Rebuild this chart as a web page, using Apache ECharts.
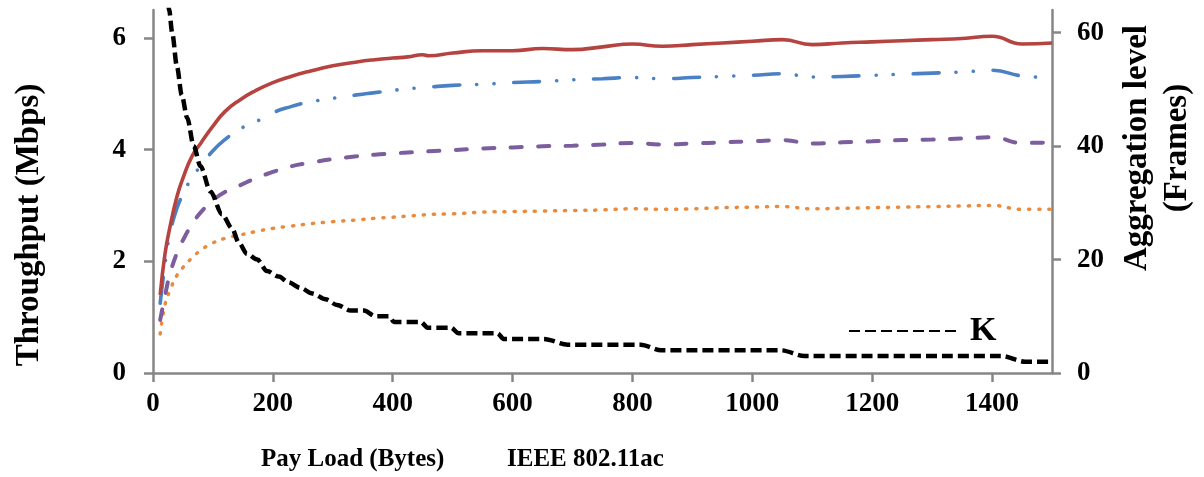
<!DOCTYPE html>
<html>
<head>
<meta charset="utf-8">
<title>Throughput vs Pay Load</title>
<script src="https://cdn.jsdelivr.net/npm/echarts@6/dist/echarts.min.js"></script>
<style>
    html, body { margin: 0; padding: 0; background: #fff; }
    #main { width: 1204px; height: 477px; }
</style>
</head>
<body>
<div id="main"></div>
<script>
// 数据部分 (从图上读出来的估计值)
var payload = [12, 20, 28, 40, 50, 65, 80, 100, 120, 145, 170, 200, 230, 260, 300, 340, 370, 400, 425, 450, 460, 500,
    550, 600, 650, 700, 750, 800, 850, 900, 950, 1000, 1050, 1100, 1150, 1200, 1250, 1300, 1350, 1400, 1450, 1500];

var redVals = [1.40, 2.13, 2.60, 3.16, 3.49, 3.88, 4.12, 4.42, 4.68, 4.89, 5.05, 5.20, 5.31, 5.40, 5.50, 5.57, 5.61, 5.64, 5.66, 5.70, 5.68, 5.73,
    5.77, 5.77, 5.81, 5.79, 5.84, 5.89, 5.85, 5.88, 5.91, 5.94, 5.97, 5.88, 5.91, 5.93, 5.95, 5.97, 5.99, 6.03, 5.89, 5.91];
var blueVals = [1.25, 1.95, 2.48, 2.95, 3.20, 3.50, 3.71, 3.98, 4.18, 4.37, 4.49, 4.66, 4.77, 4.85, 4.92, 4.98, 5.02, 5.06, 5.09, 5.11, 5.12, 5.15,
    5.17, 5.20, 5.22, 5.25, 5.27, 5.29, 5.27, 5.29, 5.31, 5.33, 5.36, 5.30, 5.31, 5.33, 5.35, 5.37, 5.39, 5.42, 5.32, 5.29];
var purpleVals = [0.95, 1.38, 1.76, 2.15, 2.38, 2.66, 2.88, 3.09, 3.24, 3.36, 3.48, 3.60, 3.70, 3.76, 3.83, 3.88, 3.91, 3.93, 3.95, 3.96, 3.97, 3.99,
    4.02, 4.04, 4.06, 4.07, 4.09, 4.12, 4.09, 4.11, 4.13, 4.15, 4.17, 4.11, 4.13, 4.15, 4.17, 4.18, 4.20, 4.22, 4.12, 4.13];
var orangeVals = [0.70, 1.22, 1.47, 1.75, 1.89, 2.06, 2.20, 2.33, 2.41, 2.47, 2.53, 2.59, 2.63, 2.67, 2.71, 2.74, 2.77, 2.79, 2.81, 2.83, 2.84, 2.85,
    2.88, 2.89, 2.90, 2.91, 2.92, 2.94, 2.93, 2.94, 2.96, 2.97, 2.98, 2.94, 2.95, 2.96, 2.97, 2.98, 2.99, 3.00, 2.93, 2.93];

// K (聚合帧数) 单独的 x 值
var kPayload = [12, 20, 27, 32, 40, 48, 57, 68, 79, 96, 115, 132, 143, 157, 174, 190, 210, 226, 246, 266, 288, 307, 330, 352,
    371, 394, 402, 447, 458, 497, 510, 575, 585, 652, 692, 814, 848, 1048, 1087, 1416, 1455, 1500];
var kVals = [110, 80, 64, 60, 54, 49, 45, 40, 36.5, 32, 28, 25.5, 23, 21, 20, 18, 17, 16, 15, 14, 13, 12, 11, 11,
    10, 10, 9, 9, 8, 8, 7, 7, 6, 6, 5, 5, 4, 4, 3, 3, 2, 2];

var xTicks = [0, 200, 400, 600, 800, 1000, 1200, 1400];
var leftTicks = [0, 2, 4, 6];
var rightTicks = [0, 20, 40, 60];

function pairs(xs, ys) {
    return xs.map(function (x, i) { return [x, ys[i]]; });
}

var serif = "'Liberation Serif', 'Times New Roman', serif";
var axisGray = '#868686';
var plainNum = function (v) { return String(v); };

var myChart = echarts.init(document.getElementById('main'));

var option = {
    animation: false,
    grid: { left: 153, right: 152, top: 10, bottom: 104, containLabel: false, outerBoundsMode: 'none' },
    legend: {
        data: ['K'],
        left: 843,
        top: 309,
        itemWidth: 108,
        itemHeight: 14,
        itemStyle: { opacity: 0 },
        textStyle: { fontFamily: serif, fontWeight: 'bold', fontSize: 34, color: '#000', padding: [0, 0, 0, 8] }
    },
    xAxis: {
        type: 'value',
        min: 0,
        max: 1500,
        axisLine: { show: true, onZero: false, lineStyle: { color: axisGray, width: 2.5 } },
        axisTick: { show: true, length: 9, customValues: xTicks, lineStyle: { color: axisGray, width: 2.5 } },
        axisLabel: { customValues: xTicks, formatter: plainNum, margin: 18, fontFamily: serif, fontWeight: 'bold', fontSize: 27, color: '#000' },
        splitLine: { show: false }
    },
    yAxis: [
        {
            type: 'value',
            min: 0,
            max: 6.5,
            axisLine: { show: true, lineStyle: { color: axisGray, width: 2.5 } },
            axisTick: { show: true, length: 9, customValues: leftTicks, lineStyle: { color: axisGray, width: 2.5 } },
            axisLabel: { customValues: leftTicks, formatter: plainNum, margin: 27, fontFamily: serif, fontWeight: 'bold', fontSize: 27, color: '#000' },
            splitLine: { show: false }
        },
        {
            type: 'value',
            min: 0,
            max: 64,
            position: 'right',
            axisLine: { show: true, lineStyle: { color: axisGray, width: 2.5 } },
            axisTick: { show: true, length: 9, customValues: rightTicks, lineStyle: { color: axisGray, width: 2.5 } },
            axisLabel: { customValues: rightTicks, formatter: plainNum, margin: 25, fontFamily: serif, fontWeight: 'bold', fontSize: 27, color: '#000' },
            splitLine: { show: false }
        }
    ],
    graphic: [
        {
            type: 'text', x: 29, y: 225, rotation: Math.PI / 2,
            style: { text: 'Throughput (Mbps)', font: 'bold 33px ' + serif, fill: '#000', textAlign: 'center', textVerticalAlign: 'middle' }
        },
        {
            type: 'text', x: 1157, y: 148, rotation: Math.PI / 2,
            style: { text: 'Aggregation level\n(Frames)', font: 'bold 33px ' + serif, lineHeight: 40, fill: '#000', textAlign: 'center', textVerticalAlign: 'middle' }
        },
        {
            type: 'text', x: 261, y: 460,
            style: { text: 'Pay Load (Bytes)', font: 'bold 25px ' + serif, fill: '#000', textAlign: 'left', textVerticalAlign: 'middle' }
        },
        {
            type: 'text', x: 507, y: 460,
            style: { text: 'IEEE 802.11ac', font: 'bold 25px ' + serif, fill: '#000', textAlign: 'left', textVerticalAlign: 'middle' }
        }
    ],
    series: [
        {
            name: 'Orange', type: 'line', yAxisIndex: 0, symbol: 'none', smooth: 0.5,
            data: pairs(payload, orangeVals),
            lineStyle: { color: '#EC8A3C', width: 3.5, type: [1.2, 8.9], cap: 'round' }
        },
        {
            name: 'Purple', type: 'line', yAxisIndex: 0, symbol: 'none', smooth: 0.5,
            data: pairs(payload, purpleVals),
            lineStyle: { color: '#7C5E9E', width: 4, type: [11, 16.5], cap: 'round' }
        },
        {
            name: 'Blue', type: 'line', yAxisIndex: 0, symbol: 'none', smooth: 0.5,
            data: pairs(payload, blueVals),
            lineStyle: { color: '#4A80C4', width: 3.6, type: [26, 17, 0.1, 17, 0.1, 19.8], cap: 'round' }
        },
        {
            name: 'Red', type: 'line', yAxisIndex: 0, symbol: 'none', smooth: 0.5,
            data: pairs(payload, redVals),
            lineStyle: { color: '#B5433F', width: 3.6, type: 'solid' }
        },
        {
            name: 'K', type: 'line', yAxisIndex: 1, symbol: 'none', smooth: 0.3, smoothMonotone: 'x',
            data: pairs(kPayload, kVals),
            lineStyle: { color: '#000', width: 4.5, type: [11, 5] }
        }
    ]
};

myChart.setOption(option);
</script>
</body>
</html>
